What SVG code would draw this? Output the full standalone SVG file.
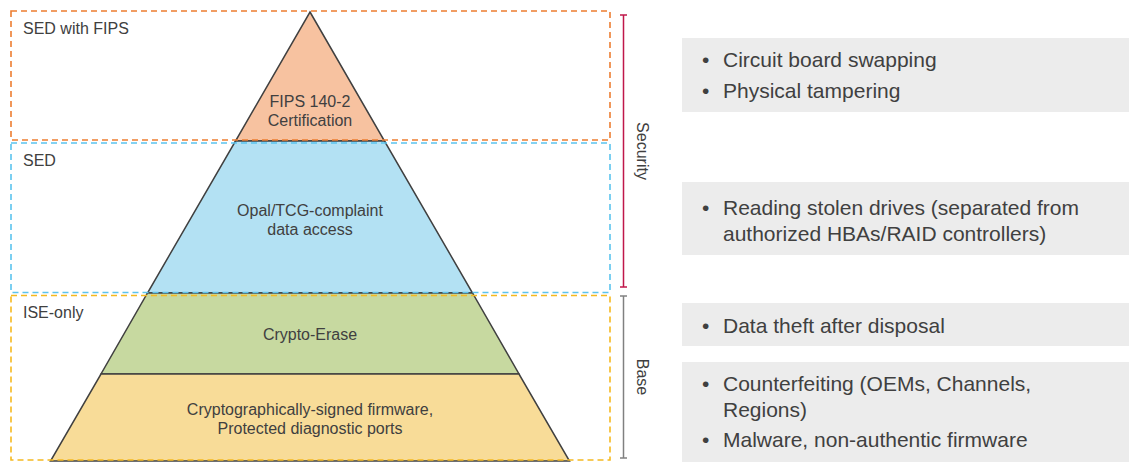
<svg xmlns="http://www.w3.org/2000/svg" width="1129" height="462" viewBox="0 0 1129 462">
<style>
text{font-family:"Liberation Sans",Arial,sans-serif;fill:#404040}
.lay{font-size:16px;text-anchor:middle}
.lbl{font-size:16px}
.bl{font-size:21px}
.tier{stroke:#404040;stroke-width:1.5}
.dash{fill:none;stroke-width:1.6;stroke-dasharray:6 4}
.gbox{fill:#ececec}
</style>
<rect width="1129" height="462" fill="#ffffff"/>
<g id="pyramid">
<g id="tier-fips"><polygon points="310,12 384.5,141 235.5,141" style="fill:#f7c2a0" class="tier"/><text class="lay" x="310" y="107">FIPS 140-2</text><text class="lay" x="310" y="126">Certification</text></g>
<g id="tier-opal"><polygon points="235.5,141 384.5,141 472.5,293 147.5,293" style="fill:#b3e1f3" class="tier"/><text class="lay" x="310" y="216">Opal/TCG-complaint</text><text class="lay" x="310" y="235">data access</text></g>
<g id="tier-erase"><polygon points="147.5,293 472.5,293 519,374 101,374" style="fill:#c7d9a0" class="tier"/><text class="lay" x="310" y="340">Crypto-Erase</text></g>
<g id="tier-firmware"><polygon points="101,374 519,374 569.5,461 50.5,461" style="fill:#f8dc98" class="tier"/><text class="lay" x="310" y="415">Cryptographically-signed firmware,</text><text class="lay" x="310" y="434">Protected diagnostic ports</text></g>
</g>
<g id="zones">
<g id="zone-fips"><rect class="dash" x="11" y="11" width="599" height="129" stroke="#ed7d31"/><text class="lbl" x="23" y="34">SED with FIPS</text></g>
<g id="zone-sed"><rect class="dash" x="11" y="143" width="599" height="149.5" stroke="#5bc4ee"/><text class="lbl" x="23" y="166">SED</text></g>
<g id="zone-ise"><rect class="dash" x="11" y="295.5" width="599" height="164.5" stroke="#f5b920"/><text class="lbl" x="23" y="318">ISE-only</text></g>
</g>
<g id="brackets">
<g id="security" stroke="#c0174a" stroke-width="1.5"><line x1="623.5" y1="15" x2="623.5" y2="287"/><line x1="620" y1="15" x2="627" y2="15"/><line x1="620" y1="287" x2="627" y2="287"/></g>
<text class="lbl" transform="translate(637,151) rotate(90)" text-anchor="middle">Security</text>
<g id="base" stroke="#808080" stroke-width="1.5"><line x1="623.5" y1="296" x2="623.5" y2="458"/><line x1="620" y1="296" x2="627" y2="296"/><line x1="620" y1="458" x2="627" y2="458"/></g>
<text class="lbl" transform="translate(637,377) rotate(90)" text-anchor="middle">Base</text>
</g>
<g id="threats">
<g id="threat-1"><rect class="gbox" x="682" y="38" width="447" height="74"/><text class="bl" x="702" y="67">•</text><text class="bl" x="723" y="67">Circuit board swapping</text><text class="bl" x="702" y="98">•</text><text class="bl" x="723" y="98">Physical tampering</text></g>
<g id="threat-2"><rect class="gbox" x="682" y="182" width="447" height="73"/><text class="bl" x="702" y="215">•</text><text class="bl" x="723" y="215">Reading stolen drives (separated from</text><text class="bl" x="723" y="241">authorized HBAs/RAID controllers)</text></g>
<g id="threat-3"><rect class="gbox" x="682" y="303" width="447" height="43"/><text class="bl" x="702" y="333">•</text><text class="bl" x="723" y="333">Data theft after disposal</text></g>
<g id="threat-4"><rect class="gbox" x="682" y="362" width="447" height="100"/><text class="bl" x="702" y="391">•</text><text class="bl" x="723" y="391">Counterfeiting (OEMs, Channels,</text><text class="bl" x="723" y="417">Regions)</text><text class="bl" x="702" y="447">•</text><text class="bl" x="723" y="447">Malware, non-authentic firmware</text></g>
</g>
</svg>
